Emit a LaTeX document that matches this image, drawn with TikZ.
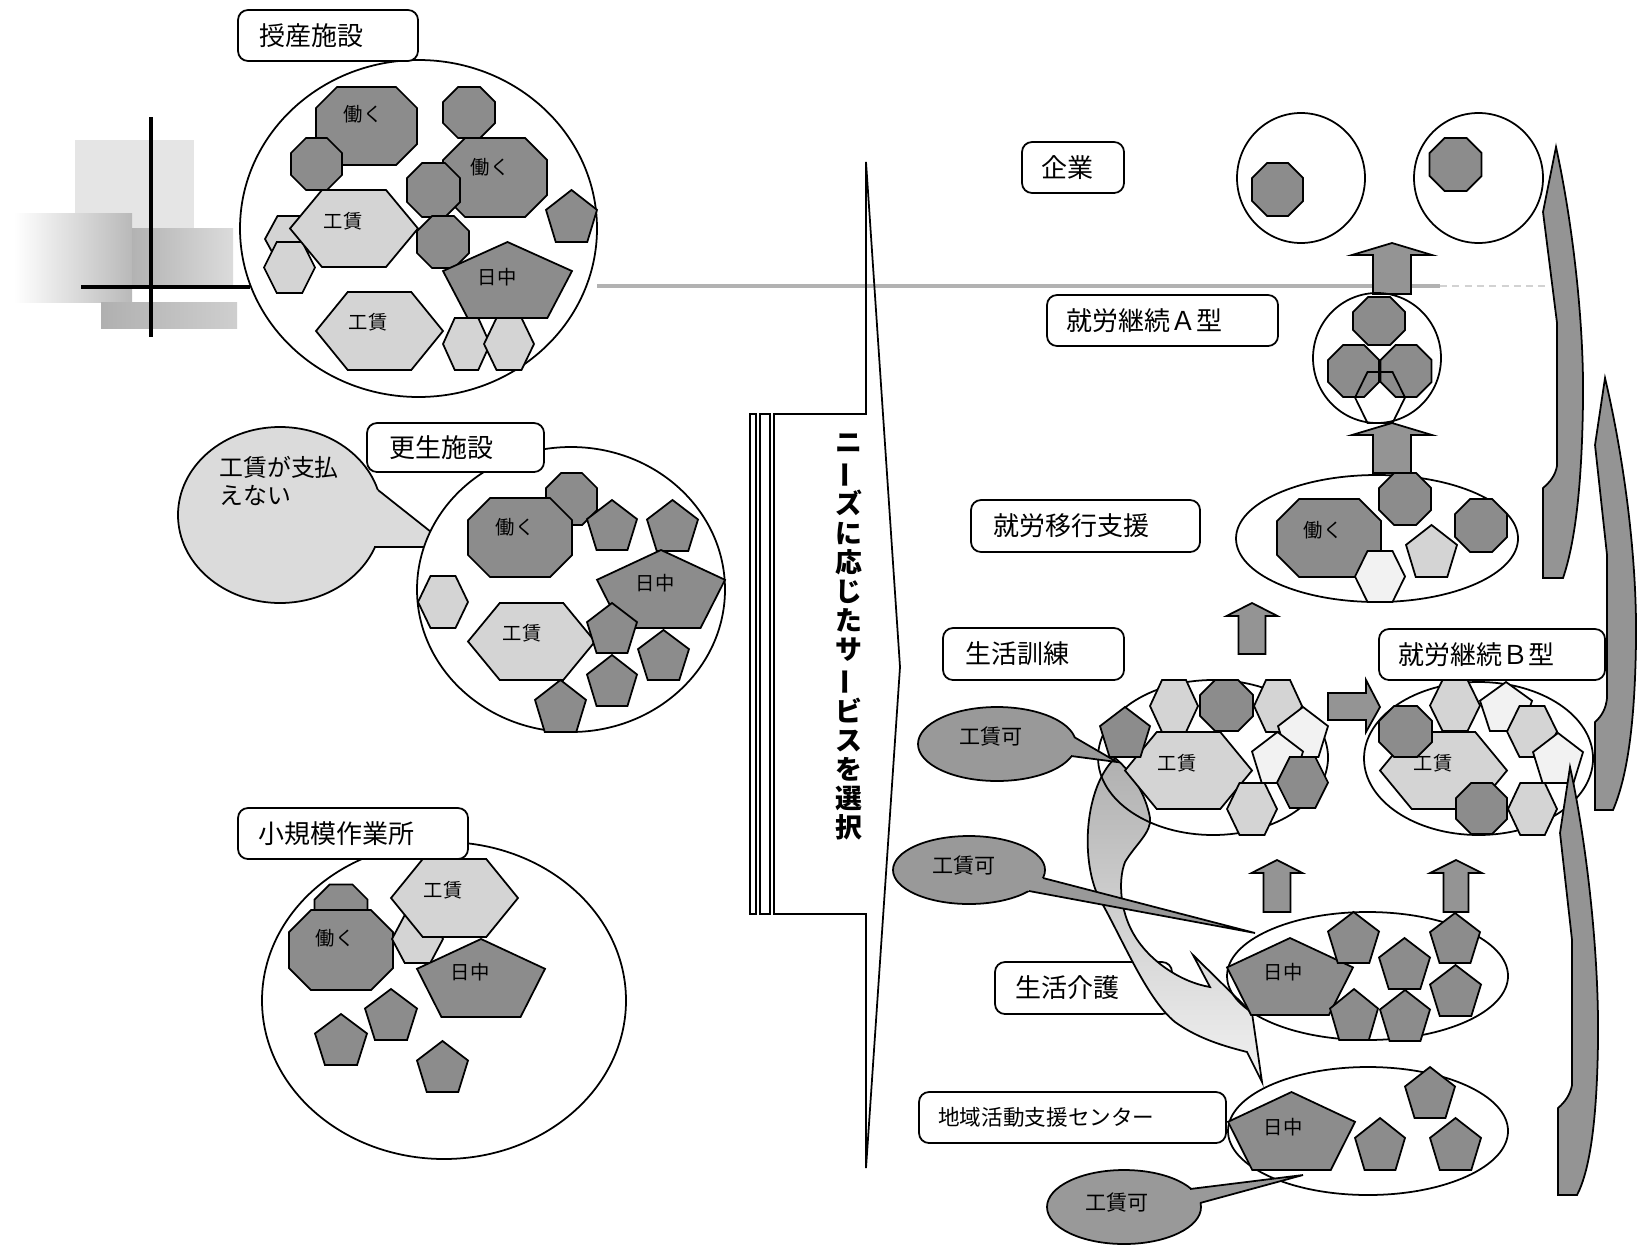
\documentclass[tikz,border=0pt]{standalone}
\usepackage{fontspec}
\usepackage{graphicx}
\setmainfont{Noto Sans CJK JP}
\usetikzlibrary{fit,shapes.geometric}
\definecolor{dk}{gray}{0.55}
\definecolor{lt}{gray}{0.83}
\definecolor{vl}{gray}{0.95}
\definecolor{cal}{gray}{0.6}
\definecolor{bub}{gray}{0.86}
\definecolor{arr}{gray}{0.58}
\definecolor{sw}{gray}{0.58}
\tikzset{
  shp/.style={draw=black, line width=1pt, line join=miter},
  oc/.style={shp, fill=dk},
  hx/.style={shp, fill=lt},
  pt/.style={shp, fill=dk},
  ring/.style={ellipse, draw=black, line width=1pt, inner sep=0pt},
  lblbox/.style={draw=black, line width=1pt, fill=white, rounded corners=0.2cm, inner sep=0pt},
  lbltext/.style={font=\fontsize{14.8}{17}\selectfont, inner sep=0pt},
  smalltext/.style={font=\fontsize{12.3}{14}\selectfont, inner sep=0pt},
  intext/.style={font=\fontsize{11}{12}\selectfont, inner sep=0pt},
  caltext/.style={font=\fontsize{12}{13}\selectfont, inner sep=0pt},
  blk/.style={draw=black, line width=1pt, fill=arr},
  swoo/.style={draw=black, line width=1pt, fill=sw},
}
% [style]{cx}{cy}{w}{h}{corner}
\newcommand\octg[6][]{\draw[oc,#1] ({#2-#4/2+#6},{#3-#5/2}) -- ({#2+#4/2-#6},{#3-#5/2}) -- ({#2+#4/2},{#3-#5/2+#6}) -- ({#2+#4/2},{#3+#5/2-#6}) -- ({#2+#4/2-#6},{#3+#5/2}) -- ({#2-#4/2+#6},{#3+#5/2}) -- ({#2-#4/2},{#3+#5/2-#6}) -- ({#2-#4/2},{#3-#5/2+#6}) -- cycle;}
% [style]{cx}{cy}{w}{h}
\newcommand\hexg[5][]{\draw[hx,#1] ({#2-#4/2},{#3}) -- ({#2-#4/4},{#3-#5/2}) -- ({#2+#4/4},{#3-#5/2}) -- ({#2+#4/2},{#3}) -- ({#2+#4/4},{#3+#5/2}) -- ({#2-#4/4},{#3+#5/2}) -- cycle;}
\newcommand\pentg[5][]{\draw[pt,#1] ({#2},{#3-#5/2}) -- ({#2+#4/2},{#3-0.118*#5}) -- ({#2+0.309*#4},{#3+#5/2}) -- ({#2-0.309*#4},{#3+#5/2}) -- ({#2-#4/2},{#3-0.118*#5}) -- cycle;}
% {cx}{top}{bottom}{shaft half}{head half}{head height}
\newcommand\upblk[6]{\draw[blk] (#1,#2) -- ({#1+#5},{#2+#6}) -- ({#1+#4},{#2+#6}) -- ({#1+#4},#3) -- ({#1-#4},#3) -- ({#1-#4},{#2+#6}) -- ({#1-#5},{#2+#6}) -- cycle;}
% [textstyle]{name}{x0}{y0}{x1}{y1}{textx}{text}
\newcommand\lbl[8][lbltext]{\node[lblbox, fit={(#3,#4)(#5,#6)}] (#2) {};
  \node[#1, anchor=west] (#2t) at (#7,{(#4+#6)/2}) {#8};}
% {name}{cx}{cy}{rx}{ry}{fill}
\newcommand\ringn[6]{\node[ring, fill=#6, minimum width={2*#4*0.02cm}, minimum height={2*#5*0.02cm}] (#1) at (#2,#3) {};}
% callout: {name}{cx}{cy}{rx}{ry}{b1}{tip}{b2}{fill}
\newcommand\callout[9]{\node[ring, fill=#9, minimum width={2*#4*0.02cm}, minimum height={2*#5*0.02cm}] (#1) at (#2,#3) {};
  \fill[#9] #6 -- #7 -- #8 -- (#2,#3) -- cycle;
  \draw[line width=1pt, line join=miter] #6 -- #7 -- #8;}
\begin{document}
\begin{tikzpicture}[x=0.02cm,y=-0.02cm]
\useasboundingbox[fill=white] (0,0) rectangle (1638,1247);

% ---------- top-left decoration ----------
\fill[gray!20] (75,140) rectangle (194,230);
\shade[left color=white, right color=gray!55] (14,213) rectangle (132,302);
\shade[left color=gray!60, right color=gray!28] (132,228) rectangle (233,286);
\shade[left color=gray!62, right color=gray!38] (101,302) rectangle (237,328);
\draw[line width=2.3pt] (151,117) -- (151,337);
\draw[line width=2.3pt] (81,287) -- (250,287);
\draw[line width=1.8pt, gray!60] (597,286) -- (1440,286);
\draw[line width=1.5pt, gray!35, dash pattern=on 4pt off 3pt] (1440,286) -- (1545,286);

% ---------- 授産施設 ----------
\ringn{cJ}{418.5}{228.5}{178.5}{168.5}{white}
\octg{366.5}{126}{101}{78}{21}
\octg{469}{112.5}{52}{51}{15}
\octg{316.5}{164}{51}{52}{15}
\octg{495}{177.5}{104}{79}{22}
\octg{433.5}{190}{53}{54}{15}
\octg{443}{242}{52}{52}{15}
\pentg{571.5}{216}{51}{52}
\hexg{290}{239}{50}{46}
\hexg{289.5}{267.5}{51}{51}
\hexg{354}{228.5}{128}{77}
\pentg{507.5}{280}{129}{76}
\hexg{379.5}{331}{127}{78}
\hexg{466.5}{344}{47}{52}
\hexg{509}{344}{50}{52}
\node[intext] (j1) at (363,114) {働く};
\node[intext] (j2) at (490,167) {働く};
\node[intext] (j3) at (343,221) {工賃};
\node[intext] (j4) at (497,277) {日中};
\node[intext] (j5) at (368,322) {工賃};
\lbl{lJ}{238}{10}{418}{61}{259}{授産施設}

% ---------- 更生施設 ----------
\callout{bubK}{280}{515}{102}{88}{(378,490)}{(450,547)}{(374,547)}{bub}
\node[font=\fontsize{13.6}{16}\selectfont, align=left, anchor=west, inner sep=0pt] (bubKt) at (219,481) {工賃が支払\\えない};
\ringn{cK}{571}{589.5}{154}{142.5}{white}
\octg{571.5}{499}{51}{52}{15}
\octg{520}{537.5}{104}{79}{22}
\pentg{612}{525}{50}{50}
\pentg{672.5}{525.5}{51}{51}
\pentg{661}{589}{128}{78}
\hexg{443}{602}{50}{52}
\hexg{531.5}{641.5}{127}{77}
\pentg{612}{628}{50}{50}
\pentg{663.5}{655}{51}{50}
\pentg{612}{680.5}{50}{51}
\pentg{560.5}{706}{51}{52}
\node[intext] (k1) at (515,527) {働く};
\node[intext] (k2) at (655,583) {日中};
\node[intext] (k3) at (522,633) {工賃};
\lbl{lK}{367}{423}{544}{472}{389}{更生施設}

% ---------- 小規模作業所 ----------
\ringn{cS}{444}{1000.5}{182}{158.5}{white}
\octg{341}{911}{53}{53}{15}
\octg{341}{950}{104}{80}{22}
\hexg{417.5}{939}{51}{48}
\hexg{454.5}{898}{127}{78}
\pentg{481}{978}{128}{78}
\pentg{391}{1014.5}{52}{51}
\pentg{341}{1039.5}{52}{51}
\pentg{442.5}{1066.5}{51}{51}
\node[intext] (s1) at (335,938) {働く};
\node[intext] (s2) at (443,890) {工賃};
\node[intext] (s3) at (470,972) {日中};
\lbl{lS}{238}{808}{468}{859}{258}{小規模作業所}

% ---------- central arrow ----------
\draw[line width=1pt, line join=miter] (866,162) -- (900,667) -- (866,1168) -- (866,914) -- (774,914) -- (774,414) -- (866,414) -- cycle;
\draw[line width=0.9pt] (750,414) rectangle (756,914);
\draw[line width=0.9pt] (760,414) rectangle (770,914);
\node[font=\bfseries\fontsize{15.3}{16.6}\selectfont, align=center, inner sep=0pt] (needs) at (849,637)
 {ニ\\\rotatebox[origin=c]{90}{ー}\\ズ\\に\\応\\じ\\た\\サ\\\rotatebox[origin=c]{90}{ー}\\ビ\\ス\\を\\選\\択};

% ---------- right: labels ----------
\lbl{lKig}{1022}{142}{1124}{193}{1041}{企業}
\lbl{lA}{1047}{295}{1278}{346}{1066}{就労継続Ａ型}
\lbl{lI}{971}{500}{1200}{552}{993}{就労移行支援}
\lbl{lT}{943}{628}{1124}{680}{965}{生活訓練}
\lbl{lB}{1379}{629}{1605}{680}{1398}{就労継続Ｂ型}
\lbl{lC}{995}{962}{1172}{1014}{1015}{生活介護}
\lbl[smalltext]{lD}{919}{1092}{1226}{1143}{938}{地域活動支援センター}

% ---------- 企業 ----------
\ringn{cE1}{1301}{178}{64}{65}{none}
\octg{1277.5}{189.5}{51}{53}{15}
\ringn{cE2}{1478.5}{178}{64.5}{65}{none}
\octg{1455.5}{164.5}{52}{53}{15}

% ---------- arrows ----------
\upblk{1392}{243}{294}{19}{40}{12}
\upblk{1392}{423}{473}{19}{40}{12}
\upblk{1252}{603}{654}{13.5}{25.5}{13}
\upblk{1277}{860}{912}{13.5}{25.5}{13}
\upblk{1456}{860}{912}{12.5}{26}{13}
\draw[blk] (1380,707) -- (1366,680) -- (1366,693) -- (1328,693) -- (1328,720) -- (1366,720) -- (1366,732) -- cycle;

% ---------- A型 ----------
\ringn{cA}{1377}{358}{64}{65}{none}
\octg{1379}{321}{52}{48}{15}
\octg{1353.5}{371}{51}{52}{15}
\octg{1406}{371}{51}{52}{15}
\hexg[fill=none]{1380}{397.5}{50}{51}

% ---------- 就労移行支援 ----------
\ringn{cI}{1377}{538.5}{141}{63.5}{none}
\octg{1329}{538}{104}{78}{22}
\octg{1405}{499}{52}{52}{15}
\octg{1481}{525.5}{52}{53}{15}
\pentg[fill=lt]{1431.5}{551}{51}{52}
\hexg[fill=vl]{1380}{576.5}{50}{51}
\node[intext] (i1) at (1323,530) {働く};

% ---------- curved arrow ----------
\path[draw=black, line width=1pt, line join=miter, top color=gray!62, middle color=gray!50, bottom color=gray!10]
 (1115,758) .. controls (1082,790) and (1080,870) .. (1103,905)
 .. controls (1125,945) and (1148,1000) .. (1175,1022)
 .. controls (1200,1040) and (1228,1047) .. (1247,1052)
 -- (1262,1082) -- (1252,1013) -- (1193,955) -- (1210,987)
 .. controls (1180,982) and (1148,960) .. (1133,933)
 .. controls (1120,910) and (1118,880) .. (1125,862)
 .. controls (1135,845) and (1152,832) .. (1150,818)
 .. controls (1146,795) and (1132,772) .. (1115,758) -- cycle;

% ---------- 生活訓練 ----------
\ringn{cT}{1213}{757.5}{115}{77.5}{none}
\hexg{1174}{706}{48}{52}
\octg{1226.5}{705.5}{53}{51}{15}
\hexg{1278}{706}{48}{52}
\pentg[fill=vl]{1303}{732}{50}{50}
\hexg{1188.5}{770.5}{127}{77}
\pentg{1125}{732}{50}{50}
\pentg[fill=vl]{1277.5}{757.5}{51}{51}
\hexg{1252}{809}{50}{52}
\hexg[fill=dk]{1302.5}{782.5}{51}{51}
\node[intext] (t1) at (1177,763) {工賃};

% ---------- 就労継続B型 ----------
\ringn{cB}{1478.5}{758.5}{114.5}{76.5}{none}
\hexg{1455}{705.5}{50}{51}
\pentg[fill=vl]{1506}{706.5}{52}{49}
\hexg{1532}{731.5}{50}{51}
\hexg{1443.5}{770.5}{127}{77}
\octg{1405.5}{731.5}{53}{51}{15}
\pentg[fill=vl]{1558}{758}{50}{50}
\hexg{1532.5}{809}{49}{52}
\octg{1481.5}{808.5}{51}{51}{15}
\node[intext] (b1) at (1433,763) {工賃};

% ---------- 生活介護 ----------
\ringn{cC}{1367.5}{976}{140.5}{64}{none}
\pentg{1290}{976.5}{126}{77}
\pentg{1353.5}{937.5}{51}{51}
\pentg{1455}{938}{50}{50}
\pentg{1404.5}{963.5}{51}{51}
\pentg{1455.5}{990.5}{51}{51}
\pentg{1354}{1014.5}{48}{51}
\pentg{1405}{1015.5}{50}{51}
\node[intext] (c1) at (1283,972) {日中};

% ---------- 地域活動支援センター ----------
\ringn{cD}{1368}{1131}{140}{64}{none}
\pentg{1291.5}{1131}{127}{78}
\pentg{1430}{1092.5}{50}{51}
\pentg{1380}{1144}{50}{52}
\pentg{1455.5}{1144}{51}{52}
\node[intext] (d1) at (1283,1127) {日中};

% ---------- 工賃可 callouts ----------
\callout{q1}{997}{744}{79}{37}{(1074,737)}{(1117,762)}{(1071,756)}{cal}
\node[caltext] (q1t) at (991,737) {工賃可};
\callout{q2}{969}{870}{76}{34}{(1043,878)}{(1255,933)}{(1029,891)}{cal}
\node[caltext] (q2t) at (964,866) {工賃可};
\callout{q3}{1124}{1207}{77}{37}{(1190,1189)}{(1303,1175)}{(1200,1203)}{cal}
\node[caltext] (q3t) at (1117,1203) {工賃可};

% ---------- right swooshes ----------
\draw[swoo, line join=miter] (1556,147) .. controls (1572,220) and (1584,320) .. (1583,400)
 .. controls (1582,480) and (1576,540) .. (1563,578) -- (1543,578) -- (1543,488)
 .. controls (1550,482) and (1555,476) .. (1557,466) -- (1557,323) -- (1543,212) -- cycle;
\draw[swoo, line join=miter] (1605,378) .. controls (1622,450) and (1637,550) .. (1636,640)
 .. controls (1635,720) and (1628,775) .. (1613,810) -- (1595,810) -- (1595,722)
 .. controls (1602,716) and (1606,708) .. (1607,698) -- (1607,555) -- (1595,445) -- cycle;
\draw[swoo, line join=miter] (1570,767) .. controls (1586,840) and (1599,950) .. (1598,1040)
 .. controls (1597,1120) and (1590,1170) .. (1577,1195) -- (1558,1195) -- (1558,1108)
 .. controls (1565,1102) and (1570,1095) .. (1572,1085) -- (1572,940) -- (1560,833) -- cycle;
\end{tikzpicture}
\end{document}
